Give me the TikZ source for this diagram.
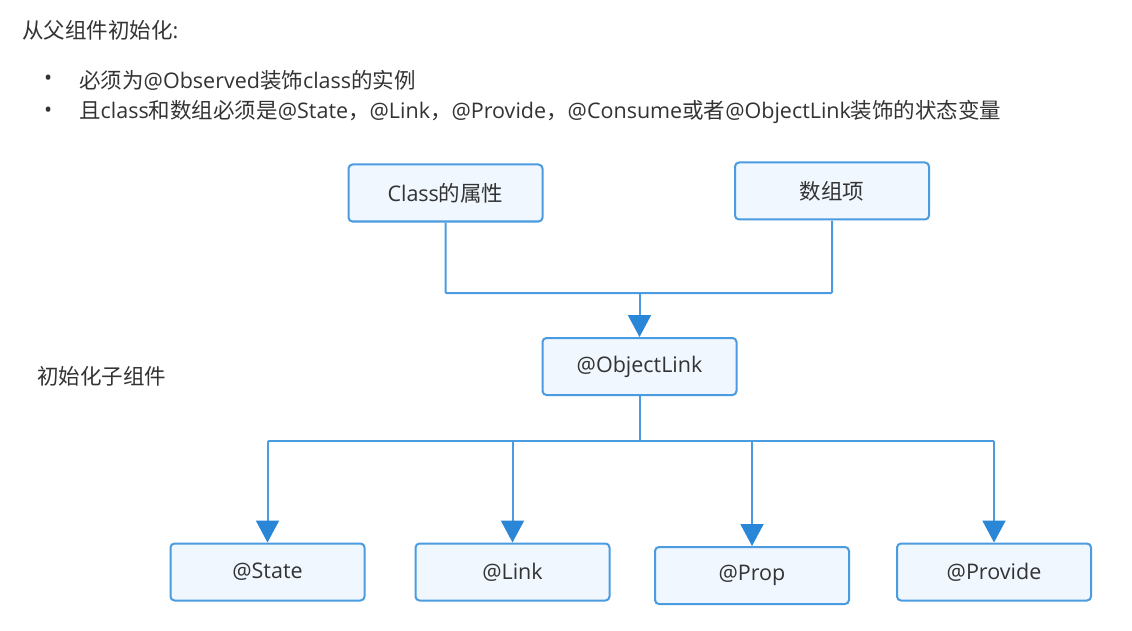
\documentclass[tikz,border=0pt]{standalone}
\usepackage{fontspec}
\setmainfont{Noto Sans CJK SC}
\newfontfamily\latfont{Open Sans}
\newcommand{\lt}[1]{{\latfont #1}}
\usetikzlibrary{arrows.meta}
\definecolor{bordc}{HTML}{4A9BE0}
\definecolor{fillc}{HTML}{F0F7FF}
\definecolor{arrc}{HTML}{2A87D8}
\definecolor{txtc}{HTML}{333333}
\tikzset{
  box/.style={draw=bordc, fill=fillc, line width=2pt, rounded corners=4pt,
    minimum width=194pt, minimum height=57pt, inner sep=0pt, text=txtc,
    font=\fontsize{21.5pt}{26pt}\selectfont},
  conn/.style={draw=bordc, line width=2pt},
  arr/.style={conn, -{Triangle[width=23pt,length=22pt,color=arrc]}},
  lbl/.style={anchor=west, inner sep=0pt, text=txtc, font=\fontsize{21.5pt}{26pt}\selectfont}
}
\begin{document}
\begin{tikzpicture}[x=1pt,y=-1pt]
\useasboundingbox (0,0) rectangle (1132,631);
\fill[white] (0,0) rectangle (1132,631);
\node[lbl] (title) at (22,30) {从父组件初始化\lt{:}};
\node[lbl] (b1dot) at (44,80) {\lt{•}};
\node[lbl] (b1) at (79,80) {必须为\lt{@Observed}装饰\lt{class}的实例};
\node[lbl] (b2dot) at (44,112) {\lt{•}};
\node[lbl] (b2) at (79,112) {且\lt{class}和数组必须是\lt{@State}，\lt{@Link}，\lt{@Provide}，\lt{@Consume}或者\lt{@ObjectLink}装饰的状态变量};
\node[lbl] (child) at (37,376) {初始化子组件};

\node[box] (cls) at (445.5,193) {\lt{Class}的属性};
\node[box] (arr) at (832,191) {数组项};
\node[box] (obj) at (639.5,366.5) {\lt{@ObjectLink}};
\node[box] (st) at (267.5,572) {\lt{@State}};
\node[box] (lk) at (512.5,572) {\lt{@Link}};
\node[box] (pr) at (752,575.5) {\lt{@Prop}};
\node[box] (pv) at (994,572) {\lt{@Provide}};

\coordinate (j1) at (639.5,293);
\coordinate (j2) at (639.5,441);
\draw[conn, rounded corners=1pt] (cls.south) |- (j1) -| (arr.south);
\draw[arr] (j1) -- (obj.north);
\draw[conn] (obj.south) -- (j2);
\draw[conn] (st.north |- j2) -- (pv.north |- j2);
\draw[arr] (st.north |- j2) -- (st.north);
\draw[arr] (lk.north |- j2) -- (lk.north);
\draw[arr] (pr.north |- j2) -- (pr.north);
\draw[arr] (pv.north |- j2) -- (pv.north);
\end{tikzpicture}
\end{document}
